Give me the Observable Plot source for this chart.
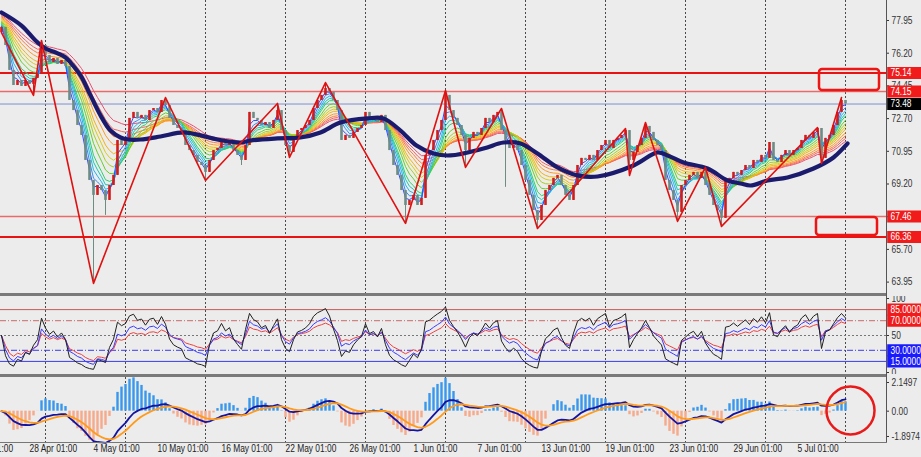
<!DOCTYPE html>
<html>
<head>
<meta charset="utf-8">
<script src="https://cdn.jsdelivr.net/npm/d3@7"></script>
<script src="https://cdn.jsdelivr.net/npm/@observablehq/plot@0.6"></script>
<style>
  html, body { margin:0; padding:0; background:#ececec; }
  #wrap { position:relative; width:921px; height:457px; overflow:hidden; background:#ececec; color:#333; }
  #wrap svg { position:absolute; left:0; }
  .band { position:absolute; left:0; width:886px; height:3px; background:#7a7a7a; }
</style>
</head>
<body>
<div id="wrap"></div>
<script>
// ---------- data ----------
const closes = [
  77.58, 76.61, 75.28, 74.47, 74.74, 74.42, 74.74, 74.53, 74.85, 75.06,
  76.61, 76.08, 75.70, 75.92, 75.60, 75.81, 75.49, 73.67, 73.13, 72.33,
  71.80, 70.46, 69.39, 68.59, 69.12, 68.85, 68.32, 69.12, 69.66, 71.53,
  71.26, 71.53, 72.71, 73.03, 72.71, 72.87, 72.60, 73.13, 73.24, 73.03,
  73.67, 73.40, 72.71, 72.33, 72.17, 72.06, 71.26, 70.99, 70.73, 70.35,
  70.19, 69.82, 70.46, 70.99, 71.10, 71.53, 71.26, 71.42, 70.99, 70.73,
  70.46, 71.26, 73.03, 72.71, 72.60, 72.33, 72.49, 72.17, 72.60, 73.13,
  72.06, 71.26, 70.89, 71.53, 72.06, 72.17, 72.33, 72.60, 73.24, 73.67,
  73.94, 74.31, 74.10, 73.67, 73.13, 71.53, 71.80, 71.64, 71.96, 72.17,
  72.33, 73.03, 72.60, 72.71, 72.49, 72.87, 72.06, 70.99, 70.19, 69.66,
  68.85, 68.05, 68.32, 68.59, 68.05, 68.43, 70.73, 70.99, 71.53, 72.06,
  72.60, 73.94, 73.13, 72.71, 72.33, 71.80, 70.99, 71.64, 71.96, 71.80,
  72.17, 72.71, 72.49, 72.87, 73.03, 72.06, 71.53, 71.10, 71.26, 70.99,
  70.19, 69.39, 68.59, 67.78, 67.25, 68.05, 68.85, 69.12, 69.50, 69.66,
  69.12, 68.59, 68.32, 69.12, 70.19, 70.57, 70.46, 70.73, 70.46, 70.99,
  71.26, 71.53, 71.10, 71.53, 71.64, 71.80, 72.06, 70.46, 70.89, 71.26,
  71.64, 72.28, 71.96, 71.53, 71.26, 70.99, 69.39, 68.85, 68.32, 67.68,
  69.12, 69.39, 69.66, 69.82, 69.50, 69.82, 69.12, 68.59, 68.05, 67.78,
  67.36, 69.39, 69.50, 69.82, 69.66, 69.92, 70.19, 70.03, 70.46, 70.35,
  70.73, 70.57, 71.42, 70.46, 70.35, 70.73, 70.99, 70.73, 70.99, 71.10,
  71.53, 71.80, 71.64, 71.96, 72.17, 70.57, 71.64, 71.80, 72.33, 73.03,
  73.67, 73.48
];
const firstOpen = 77.30;
const highWicks = [[10,76.88],[41,73.83],[69,73.51],[81,74.63],[111,74.20],[125,73.24],[156,72.17],[161,72.49],[176,70.09],[204,72.22],[210,73.83]];
const lowWicks = [[8,73.94],[23,63.88],[26,67.52],[51,69.39],[60,70.19],[72,70.62],[101,67.09],[116,70.09],[126,69.02],[134,66.82],[157,69.66],[169,67.20],[180,66.93],[205,70.30]];
const zigzag = [[0,77.30],[8,73.94],[10,76.88],[23,63.88],[41,73.83],[51,69.39],[69,73.51],[72,70.62],[81,74.63],[101,67.09],[111,74.20],[116,70.09],[125,73.24],[134,66.82],[156,72.17],[157,69.66],[161,72.49],[169,67.20],[176,70.09],[180,66.93],[204,72.22],[205,70.30],[210,73.83]];
const navyMA = [[0,78.38],[5,77.68],[8.5,76.88],[11,76.45],[13.5,76.24],[16,75.97],[17.25,75.70],[19.75,75.01],[22.25,73.94],[24.75,72.87],[27.25,72.06],[29.75,71.69],[31.75,71.58],[34.75,71.58],[39.75,71.74],[45.5,71.96],[49.75,71.80],[54,71.58],[59.75,71.42],[62.25,71.53],[69,71.64],[74.75,71.69],[79.75,71.96],[84.75,72.49],[91.5,72.71],[95.5,72.71],[99.75,72.06],[103.75,71.26],[108,70.83],[112.25,70.73],[120.5,71.10],[125.5,71.42],[129.75,71.37],[134,70.83],[139,70.09],[144,69.66],[149,69.60],[158,70.19],[164,70.89],[166.5,70.73],[170.5,70.35],[176.5,70.03],[181.5,69.39],[184.75,69.23],[187.25,69.12],[191.5,69.39],[196.5,69.55],[203,70.03],[208,70.62],[211.5,71.37]];
const levels = [75.14, 74.15, 67.46, 66.36];
const strongLevels = [75.14, 66.36];
const currentPrice = 73.48;
const zones = [{b1:204.5, b2:219.5, p1:74.20, p2:75.33}, {b1:203.75, b2:219, p1:66.45, p2:67.41}];
const priceTicks = [77.95, 76.20, 74.45, 72.70, 70.95, 69.20, 67.45, 65.70, 63.95];
const rsiLevels = [85, 70, 50, 30, 15];
const rsiTicks = [100, 50, 0];
const macdTicks = [2.1497, 0, -1.8974];
const macdTickLabels = ["2.1497", "0.00", "-1.8974"];
const gridBars = [11, 31, 51, 71, 91, 111, 131, 151, 171, 191, 211];
const timeLabels = ["22 Apr 01:00","28 Apr 01:00","4 May 01:00","10 May 01:00","16 May 01:00","22 May 01:00","26 May 01:00","1 Jun 01:00","7 Jun 01:00","13 Jun 01:00","19 Jun 01:00","23 Jun 01:00","29 Jun 01:00","5 Jul 01:00"];
const timeLabelBars = [-9, 7, 23, 39, 55, 71, 87, 103, 119, 135, 151, 167, 183, 199];
const macdMark = [{bar: 212.25, value: 0.05}];

// ---------- indicator settings ----------
const ribbonPeriods = [2,3,4,5,6,8,10,12,14,17,20,23,27];
const ribbonColors = ["#2f4dff","#2f8cff","#1fb6f0","#19c7b5","#2fcf6a","#63cf2a","#a8d01c","#d9cc10","#f2b40c","#ff9a1e","#ff7a3a","#f5645f","#e8506f"];
const rsiPeriods = {black: 5, blue: 9, red: 14};
const macdFast = 7, macdSlow = 19, macdSignal = 6, histScale = 3.4;

// ---------- helpers ----------
function ema(arr, p, seed) { const a = 2 / (p + 1); let e = seed ?? arr[0]; return arr.map(v => (e = e + a * (v - e))); }
function rsi(arr, p) {
  let g = 0.1, l = 0.1;
  return arr.map((v, i) => {
    if (i > 0) { const d = v - arr[i - 1]; g = (g * (p - 1) + Math.max(d, 0)) / p; l = (l * (p - 1) + Math.max(-d, 0)) / p; }
    return 100 * g / (g + l);
  });
}

const hiMap = new Map(highWicks), loMap = new Map(lowWicks);
const bars = closes.map((c, i) => {
  const o = i === 0 ? firstOpen : closes[i - 1];
  return {i, o, c, h: Math.max(hiMap.get(i) ?? -Infinity, o, c), l: Math.min(loMap.get(i) ?? Infinity, o, c)};
});
const navy0 = navyMA[0][1];
const ribbons = ribbonPeriods.map((p, k) => ema(closes, p, closes[0] + (navy0 - closes[0]) * (k + 1) / (ribbonPeriods.length + 1)));

const rsiBlack = rsi(closes, rsiPeriods.black), rsiBlue = rsi(closes, rsiPeriods.blue), rsiRed = rsi(closes, rsiPeriods.red);
const ef = ema(closes, macdFast), es = ema(closes, macdSlow);
const macd = ef.map((v, i) => v - es[i]);
const sig = ema(macd, macdSignal, 0);
const hist = macd.map((v, i) => histScale * (v - sig[i]));

// ---------- layout ----------
const FONT = '"Liberation Sans",Arial,sans-serif';
const FS = 10.5;
const W = 921, MR = 35;
const X = {domain: [-0.25, 221.25], axis: null};
const AX = 221.25;           // right edge of the plotting area (bar units)
const STYLE = {background: "transparent", fontFamily: FONT, fontSize: FS + "px", color: "#333"};
const grid = () => Plot.ruleX(gridBars, {stroke: "#4a4a4a", strokeDasharray: "2,2", strokeWidth: 1});
const idx = (d, i) => i;

const main = Plot.plot({
  width: W, height: 293, marginLeft: 0, marginRight: MR, marginTop: 0, marginBottom: 0,
  style: STYLE, x: X, y: {domain: [63.34, 79.02], axis: null},
  marks: [
    grid(),
    Plot.ruleY(levels.filter(d => !strongLevels.includes(d)), {stroke: "#ea6a6a", strokeWidth: 1.5}),
    Plot.ruleY(strongLevels, {stroke: "#e81414", strokeWidth: 2}),
    Plot.ruleY([currentPrice], {stroke: "#8090d0", strokeWidth: 1}),
    ...ribbons.map((r, k) => ({r, k})).reverse().map(({r, k}) => Plot.line(r, {x: idx, y: d => d, stroke: ribbonColors[k], strokeWidth: 1})),
    Plot.ruleX(bars, {x: "i", y1: "l", y2: "h", stroke: d => d.c >= d.o ? "#d21c1c" : "#6f8c84", strokeWidth: 1}),
    Plot.ruleX(bars, {x: "i", y1: "o", y2: "c", stroke: d => d.c >= d.o ? "#d21c1c" : "#6f8c84", strokeWidth: 2.6}),
    Plot.line(navyMA, {x: d => d[0], y: d => d[1], stroke: "#1b1b6e", strokeWidth: 4.2, curve: "catmull-rom"}),
    Plot.line(zigzag, {x: d => d[0], y: d => d[1], stroke: "#e01010", strokeWidth: 1.6}),
    Plot.rect(zones, {x1: "b1", x2: "b2", y1: "p1", y2: "p2", fill: "none", stroke: "#ee1515", strokeWidth: 2.5, rx: 3}),
    Plot.ruleY(priceTicks, {x1: AX, x2: AX + 0.75, stroke: "#333"}),
    Plot.text(priceTicks, {y: d => d, text: d => d.toFixed(2), frameAnchor: "right", dx: 5, textAnchor: "start", fill: "#333"}),
    Plot.ruleY(levels, {x1: AX + 0.3, x2: AX + 20, stroke: "#f21b1b", strokeWidth: 12}),
    Plot.ruleY([currentPrice], {x1: AX + 0.3, x2: AX + 20, stroke: "#000", strokeWidth: 12}),
    Plot.text(levels.concat([currentPrice]), {y: d => d, text: d => d.toFixed(2), frameAnchor: "right", dx: 4, textAnchor: "start", fill: "#fff"})
  ]
});

const rsiPlot = Plot.plot({
  width: W, height: 78, marginLeft: 0, marginRight: MR, marginTop: 2, marginBottom: 2,
  style: STYLE, x: X, y: {domain: [0, 100], axis: null},
  marks: [
    grid(),
    Plot.ruleY([rsiLevels[0]], {stroke: "#c85a5a", strokeWidth: 1}),
    Plot.ruleY([rsiLevels[1]], {stroke: "#c86a6a", strokeDasharray: "6,2,1,2"}),
    Plot.ruleY([rsiLevels[2]], {stroke: "#777", strokeDasharray: "2,2"}),
    Plot.ruleY([rsiLevels[3]], {stroke: "#3b3bf0", strokeDasharray: "6,2,1,2"}),
    Plot.ruleY([rsiLevels[4]], {stroke: "#3b3bf0", strokeWidth: 1}),
    Plot.line(rsiRed, {x: idx, y: d => d, stroke: "#f04040", strokeWidth: 1}),
    Plot.line(rsiBlue, {x: idx, y: d => d, stroke: "#3a3aff", strokeWidth: 1}),
    Plot.line(rsiBlack, {x: idx, y: d => d, stroke: "#202020", strokeWidth: 1}),
    Plot.ruleY(rsiTicks, {x1: AX, x2: AX + 0.75, stroke: "#333"}),
    Plot.text(rsiTicks, {y: d => d, text: d => String(d), frameAnchor: "right", dx: 5, textAnchor: "start", fill: "#333"}),
    Plot.ruleY(rsiLevels.slice(0, 2), {x1: AX + 0.3, x2: AX + 20, stroke: "#f21b1b", strokeWidth: 12}),
    Plot.ruleY(rsiLevels.slice(3), {x1: AX + 0.3, x2: AX + 20, stroke: "#1a1aff", strokeWidth: 12}),
    Plot.text(rsiLevels.filter(d => d !== 50), {y: d => d, text: d => d.toFixed(4), frameAnchor: "right", dx: 4, textAnchor: "start", fill: "#fff"})
  ]
});

const macdPlot = Plot.plot({
  width: W, height: 80, marginLeft: 0, marginRight: MR, marginTop: 0, marginBottom: 15,
  style: STYLE, x: X, y: {domain: [-2.348, 2.524], axis: null},
  marks: [
    grid(),
    Plot.ruleX(hist, {x: idx, y1: 0, y2: d => d, stroke: d => d >= 0 ? "#3a98ec" : "#f6aa8c", strokeWidth: 2.4}),
    Plot.line(macd, {x: idx, y: d => d, stroke: "#1414a0", strokeWidth: 1.8}),
    Plot.line(sig, {x: idx, y: d => d, stroke: "#ff9a1a", strokeWidth: 1.8}),
    Plot.dot(macdMark, {x: "bar", y: "value", r: 24, fill: "none", stroke: "#e81a1a", strokeWidth: 2.5}),
    Plot.ruleY(macdTicks, {x1: AX, x2: AX + 0.75, stroke: "#333"}),
    Plot.text(macdTicks, {y: d => d, text: (d, i) => macdTickLabels[i], frameAnchor: "right", dx: 5, textAnchor: "start", fill: "#333"}),
    Plot.text(timeLabels, {x: (d, i) => timeLabelBars[i], text: d => d, frameAnchor: "bottom", dy: 9, textAnchor: "start", fill: "#222"})
  ]
});

const wrap = document.getElementById("wrap");
function put(el, top) { el.style.position = "absolute"; el.style.top = top + "px"; el.style.left = "0px"; wrap.appendChild(el); }
put(main, 0); put(rsiPlot, 296); put(macdPlot, 377);
function div(cls, css) { const d = document.createElement("div"); if (cls) d.className = cls; Object.assign(d.style, css); wrap.appendChild(d); }
div("band", {top: "293px"});
div("band", {top: "374px"});
div(null, {position: "absolute", left: "886px", top: "0px", width: "1px", height: "442px", background: "#555"});
div(null, {position: "absolute", left: "0px", top: "442px", width: "887px", height: "1px", background: "#777"});

// the reference uses a narrow terminal font: compress text horizontally
wrap.querySelectorAll("text").forEach(t => {
  const len = t.getComputedTextLength();
  if (len > 0) { t.setAttribute("textLength", (len * 0.8).toFixed(1)); t.setAttribute("lengthAdjust", "spacingAndGlyphs"); }
});
</script>
</body>
</html>
